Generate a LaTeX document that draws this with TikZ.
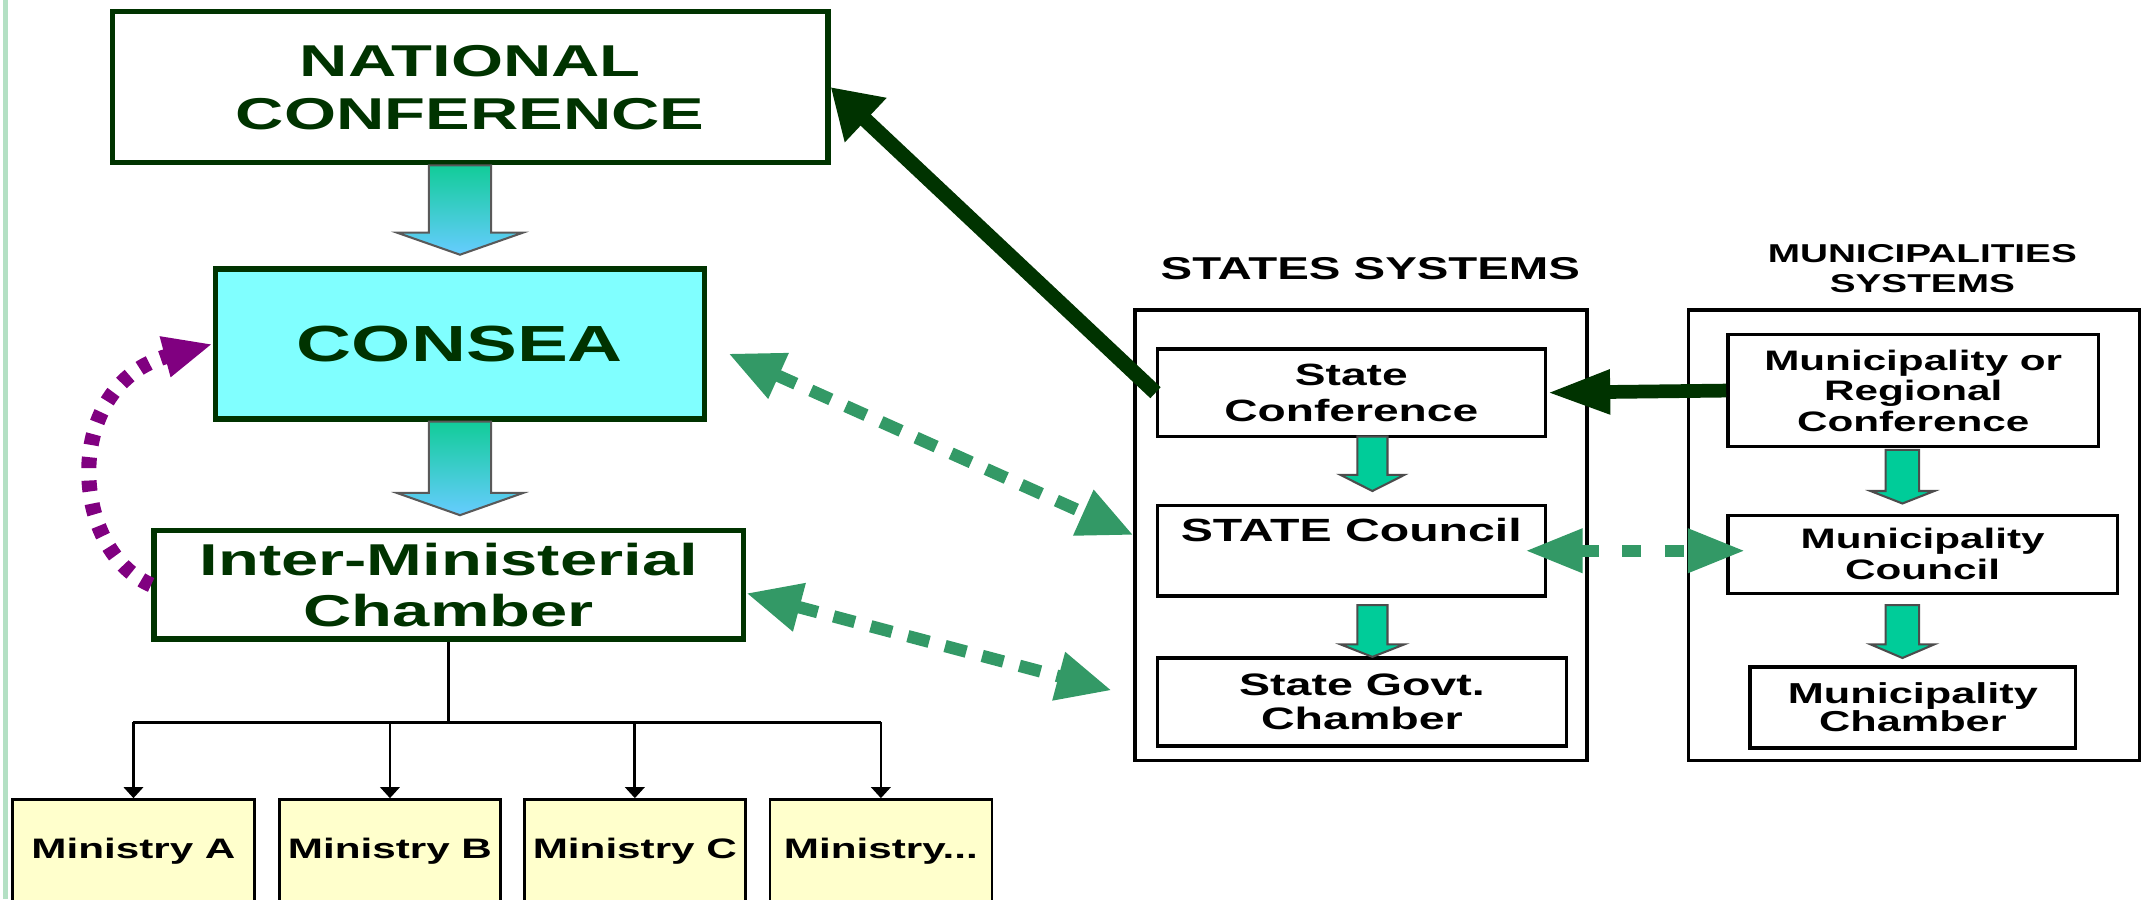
\documentclass[tikz,border=0pt]{standalone}
\usepackage{fontspec}
\setmainfont[FakeStretch=1.5]{Liberation Sans}
\usetikzlibrary{arrows.meta}

\definecolor{dkgreen}{HTML}{003300}
\definecolor{conseafill}{HTML}{80FFFF}
\definecolor{minfill}{HTML}{FFFFCC}
\definecolor{tealflow}{HTML}{00CC99}
\definecolor{flowtop}{HTML}{12CC99}
\definecolor{flowbot}{HTML}{66CCFF}
\definecolor{linkgreen}{HTML}{339966}
\definecolor{loopviolet}{HTML}{800080}
\definecolor{slideedge}{HTML}{B4E0C4}

\tikzset{
  mainbox/.style={draw=dkgreen, line width=4pt, fill=white, inner sep=0pt, align=center, text=dkgreen},
  sysbox/.style={draw=black, line width=2.5pt, fill=white, inner sep=0pt, align=center},
  ministry/.style={draw=black, line width=2pt, fill=minfill, inner xsep=0pt, inner ysep=27pt,
    text height=16pt, text depth=40pt, font=\bfseries\fontsize{20.5}{26}\selectfont},
  syslabel/.style={inner sep=0pt, align=center},
  bigflow/.style={top color=flowtop, bottom color=flowbot, draw=black!65, line width=1.5pt},
  smallflow/.style={top color=tealflow, bottom color=tealflow, draw=black!70, line width=1.5pt},
  dashlink/.style={linkgreen, line width=9pt, dash pattern=on 16pt off 12pt, <->, >={Triangle[length=40pt,width=34pt]}},
  feedback/.style={dkgreen, line width=11pt, ->, >={Triangle[length=35pt,width=42pt]}},
  violetloop/.style={loopviolet, line width=11pt, dash pattern=on 8pt off 9pt, ->, >={Triangle[length=36pt,width=28pt]}},
  tree/.style={black, line width=2pt},
}

% block arrow: style, x, half shaft, half head, top, head base, tip
\newcommand{\blockarrow}[7]{%
  \shadedraw[#1] ({#2-#3},#5) -- ({#2+#3},#5) -- ({#2+#3},#6) -- ({#2+#4},#6) -- (#2,#7)
    -- ({#2-#4},#6) -- ({#2-#3},#6) -- cycle;}

\begin{document}
\begin{tikzpicture}[x=1pt,y=-1pt]
  \useasboundingbox (0,0) rectangle (1568,655);
  \clip (0,0) rectangle (1568,655);
  \fill[slideedge] (2,0) rectangle (6,655);

  % national level
  \node[mainbox, minimum width=521pt, minimum height=110pt, font=\bfseries\fontsize{32.5}{38.6}\selectfont]
    (natconf) at (342.5,63.5) {NATIONAL\\CONFERENCE};
  \node[mainbox, fill=conseafill, minimum width=356pt, minimum height=109pt, font=\bfseries\fontsize{37}{44}\selectfont]
    (consea) at (335,250.5) {CONSEA};
  \node[mainbox, minimum width=429.5pt, minimum height=79pt, font=\bfseries\fontsize{32.5}{36.9}\selectfont]
    (inter) at (326.8,426) {Inter-Ministerial\\Chamber};

  \blockarrow{bigflow}{335}{22.7}{46}{120.5}{169.4}{185.5}
  \blockarrow{bigflow}{335}{22.7}{46}{307}{359}{375.2}

  % ministries
  \foreach \name/\x/\w/\txt in {minA/97.2/176.4/{Ministry A}, minB/284/160.5/{Ministry B},
      minC/462.35/160.7/{Ministry C}, minD/641.55/161.7/{Ministry.\kern0pt.\kern0pt.}}
    \node[ministry, minimum width=\w pt] (\name) at (\x,637.3) {\txt};

  \coordinate (bus) at (329,526);
  \draw[tree] (inter.south) -- (inter.south |- bus);
  \draw[tree] (minA.north |- bus) -- (minD.north |- bus);
  \foreach \name in {minA,minB,minC,minD}
    \draw[tree, -{Triangle[length=8pt,width=14pt]}] (\name.north |- bus) -- (\name.north);

  % states and municipalities
  \node[syslabel, font=\bfseries\fontsize{23}{28}\selectfont] (statestitle) at (998,196) {STATES SYSTEMS};
  \node[syslabel, font=\bfseries\fontsize{18.8}{22}\selectfont] (munititle) at (1400,195.6) {MUNICIPALITIES\\SYSTEMS};

  \node[sysbox, minimum width=329pt, minimum height=328pt] (statesys) at (991.2,389.7) {};
  \node[sysbox, minimum width=328.6pt, minimum height=328pt] (munisys) at (1393.9,389.7) {};

  \node[sysbox, minimum width=282.6pt, minimum height=63.7pt, font=\bfseries\fontsize{22.4}{26}\selectfont]
    (stateconf) at (984.1,286) {State\\Conference};
  \node[sysbox, minimum width=282.6pt, inner ysep=10pt, text height=16.7pt, text depth=29.5pt, font=\bfseries\fontsize{23.4}{26}\selectfont]
    (statecouncil) at (984.1,401.1) {STATE Council};
  \node[sysbox, minimum width=298.2pt, minimum height=64.1pt, font=\bfseries\fontsize{22.6}{24.6}\selectfont]
    (stategovt) at (991.9,511.25) {State Govt.\\Chamber};

  \node[sysbox, minimum width=269.9pt, minimum height=81.3pt, font=\bfseries\fontsize{20.5}{22.3}\selectfont]
    (munconf) at (1393.35,284.45) {Municipality or\\Regional\\Conference};
  \node[sysbox, minimum width=283.6pt, minimum height=56.8pt, font=\bfseries\fontsize{20.5}{22.5}\selectfont]
    (muncouncil) at (1400.2,403.7) {Municipality\\Council};
  \node[sysbox, minimum width=237.2pt, minimum height=58.9pt, font=\bfseries\fontsize{21}{20.8}\selectfont]
    (munchamber) at (1393.1,515.15) {Municipality\\Chamber};

  \blockarrow{smallflow}{999.5}{11}{23.2}{317.9}{345.9}{357.6}
  \blockarrow{smallflow}{999.5}{11}{23.2}{440.7}{469.3}{478.4}
  \blockarrow{smallflow}{1385.5}{12.2}{23.2}{327.7}{357.6}{366.7}
  \blockarrow{smallflow}{1385.5}{12.2}{23.2}{440.7}{469.3}{479.2}

  % links
  \draw[violetloop] (inter.west) .. controls (50,400) and (45,280) .. (consea.west);
  \draw[dashlink, shorten <=17pt] (consea.east) -- (statesys.west);
  \draw[dashlink, shorten >=33pt] ([yshift=-6pt]inter.east) -- (stategovt.west);
  \draw[dashlink, dash pattern=on 14pt off 17pt, >={Triangle[length=42pt,width=30pt]}, shorten <=-16pt, shorten >=-14pt]
    (statecouncil.east) -- (statecouncil.east -| muncouncil.west);
  \draw[feedback] (stateconf.west) -- (natconf.east);
  \draw[feedback, line width=10pt, >={Triangle[length=46pt,width=30pt]}] (munconf.west) -- (stateconf.east);
\end{tikzpicture}
\end{document}
